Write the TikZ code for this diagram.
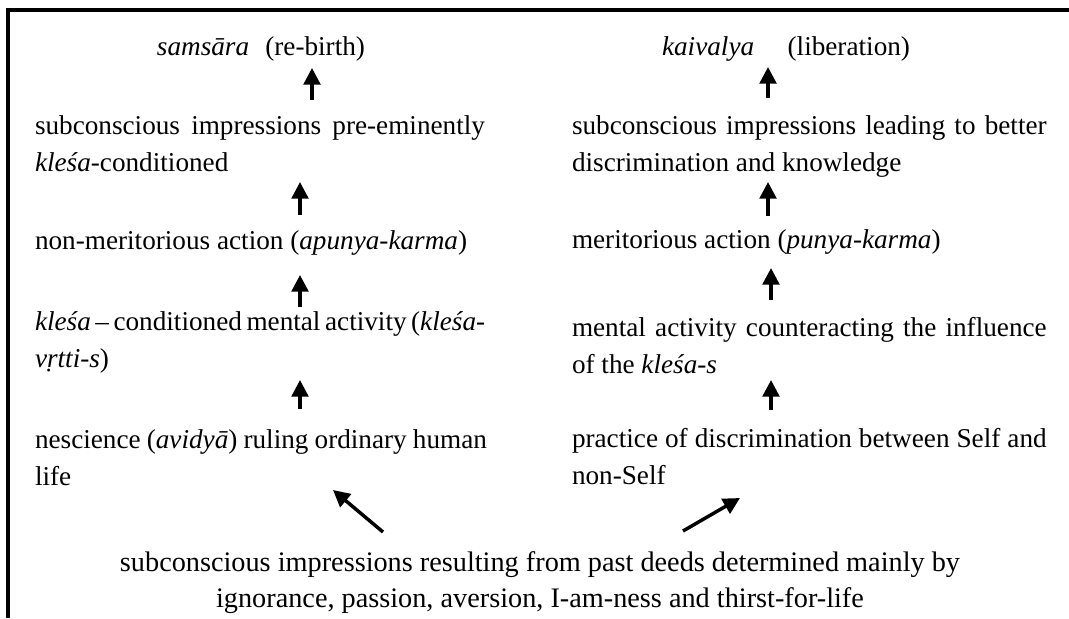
\documentclass[tikz,border=0pt]{standalone}
\usepackage{fontspec}
\setmainfont{Liberation Serif}
\usetikzlibrary{arrows.meta,calc}
\newcommand{\tp}{\rule{0pt}{18pt}}
\newcommand{\bt}{\rule[-7pt]{0pt}{7pt}}
\begin{document}
\begin{tikzpicture}[x=0.75pt,y=-0.75pt,
  every node/.style={inner sep=0pt, outer sep=0pt, font=\fontsize{20.4pt}{27.75pt}\selectfont},
  txt/.style={anchor=north west, align=left},
  bigtxt/.style={anchor=north, align=center, font=\fontsize{21.2pt}{27pt}\selectfont},
  arr/.style={line width=2.6pt, -{Triangle[length=12.5pt,width=12.5pt]}},
  frame/.style={line width=2.4pt, line join=miter}]
\useasboundingbox (0,0) rectangle (1069,618);
\draw[frame] (8,618) -- (8,10) -- (1069,10);

\node[anchor=north] (tL) at (261,31) {\tp\textit{samsāra}\hspace{7pt} (re-birth)\bt};
\node[anchor=north] (tR) at (786,31) {\tp\textit{kaivalya}\hspace{20pt} (liberation)\bt};

\node[txt] (L2) at (35,110) {\tp\makebox[337.5pt][s]{subconscious impressions pre-eminently}\\\textit{kleśa}-conditioned\bt};
\node[txt] (L3) at (35,225) {\tp non-meritorious action (\textit{apunya-karma})\bt};
\node[txt] (L4) at (35,306) {\tp\makebox[336pt][s]{\textit{kleśa} – conditioned mental activity (\textit{kleśa-}}\\\textit{vṛtti-s})\bt};
\node[txt] (L5) at (35,424) {\tp\makebox[339pt][s]{nescience (\textit{avidyā}) ruling ordinary human}\\life\bt};

\node[txt] (R2) at (572,110) {\tp\makebox[356pt][s]{subconscious impressions leading to better}\\discrimination and knowledge\bt};
\node[txt] (R3) at (572,224) {\tp meritorious action (\textit{punya-karma})\bt};
\node[txt] (R4) at (572,312) {\tp\makebox[356pt][s]{mental activity counteracting the influence}\\of the \textit{kleśa-s}\bt};
\node[txt] (R5) at (572,423) {\tp\makebox[356pt][s]{practice of discrimination between Self and}\\non-Self\bt};

\node[bigtxt] (B) at (540,547) {\tp subconscious impressions resulting from past deeds determined mainly by\\ignorance, passion, aversion, I-am-ness and thirst-for-life\bt};

\coordinate (xl1) at (312,0);
\coordinate (xl) at (300,0);
\coordinate (xr1) at (768,0);
\coordinate (xr) at (771,0);

\draw[arr] ($(L2.north -| xl1)+(0,-10)$) -- ($(tL.south -| xl1)+(0,3.67)$);
\draw[arr] ($(L3.north -| xl)+(0,-10)$) -- ($(L2.south -| xl)+(0,1.67)$);
\draw[arr] ($(L4.north -| xl)+(0,1)$) -- ($(L3.south -| xl)+(0,16.67)$);
\draw[arr] ($(L5.north -| xl)+(0,-15)$) -- ($(L4.south -| xl)+(0,3.67)$);

\draw[arr] ($(R2.north -| xr1)+(0,-12)$) -- ($(tR.south -| xr1)+(0,2.67)$);
\draw[arr] ($(R3.north -| xr1)+(0,-8)$) -- ($(R2.south -| xr1)+(0,1.67)$);
\draw[arr] ($(R4.north -| xr)+(0,-12)$) -- ($(R3.south -| xr)+(0,10.67)$);
\draw[arr] ($(R5.north -| xr)+(0,-13)$) -- ($(R4.south -| xr)+(0,-2.33)$);

\draw[arr] ($(B.north)+(-157,-15)$) -- ($(L5.south west)+(298,-4.33)$);
\draw[arr] ($(B.north)+(143,-16)$) -- ($(R5.south west)+(168,4.67)$);
\end{tikzpicture}
\end{document}
